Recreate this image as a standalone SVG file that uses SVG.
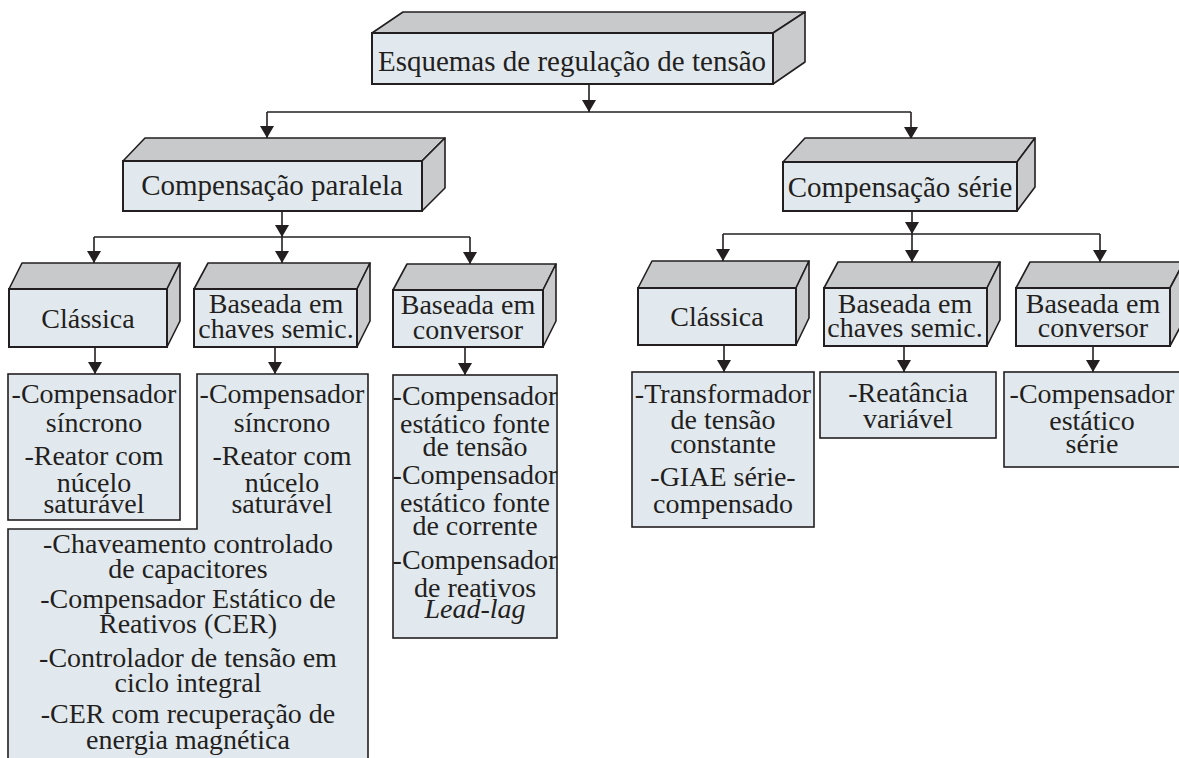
<svg xmlns="http://www.w3.org/2000/svg" width="1179" height="758" viewBox="0 0 1179 758">
<defs>
<style>
.front{fill:#e2e9ee;stroke:#231f20;stroke-width:2}
.top{fill:#c7c9cb;stroke:#231f20;stroke-width:1.6;stroke-linejoin:round}
.side{fill:#c9cbcd;stroke:#231f20;stroke-width:1.6;stroke-linejoin:round}
.list{fill:#e2e9ee;stroke:#231f20;stroke-width:1.6}
text{font-family:"Liberation Serif","Times New Roman",Times,"DejaVu Serif","Noto Serif","Nimbus Roman",FreeSerif,Tinos,serif;font-size:28px;fill:#231f20;text-anchor:middle}
.h{font-size:29px}
.conn{fill:none;stroke:#231f20;stroke-width:1.6}
</style>
<marker id="arr" viewBox="0 0 12 14" refX="12" refY="7" markerWidth="12" markerHeight="14" markerUnits="userSpaceOnUse" orient="auto">
<path d="M0,0 L12,7 L0,14 z" fill="#231f20"/>
</marker>
</defs>

<g id="connectors">
<line class="conn" x1="589" y1="84" x2="589" y2="112" marker-end="url(#arr)"/>
<polyline class="conn" points="267,112 911,112"/>
<line class="conn" x1="267" y1="112" x2="267" y2="138" marker-end="url(#arr)"/>
<line class="conn" x1="911" y1="112" x2="911" y2="139" marker-end="url(#arr)"/>
<line class="conn" x1="282" y1="211" x2="282" y2="237" marker-end="url(#arr)"/>
<polyline class="conn" points="94,237 470,237"/>
<line class="conn" x1="94" y1="237" x2="94" y2="263" marker-end="url(#arr)"/>
<line class="conn" x1="282" y1="237" x2="282" y2="263" marker-end="url(#arr)"/>
<line class="conn" x1="470" y1="237" x2="470" y2="264" marker-end="url(#arr)"/>
<line class="conn" x1="95" y1="347" x2="95" y2="374" marker-end="url(#arr)"/>
<line class="conn" x1="275" y1="347" x2="275" y2="374" marker-end="url(#arr)"/>
<line class="conn" x1="465" y1="347" x2="465" y2="375" marker-end="url(#arr)"/>
<line class="conn" x1="912" y1="210" x2="912" y2="234" marker-end="url(#arr)"/>
<polyline class="conn" points="723,234 1100,234"/>
<line class="conn" x1="723" y1="234" x2="723" y2="261" marker-end="url(#arr)"/>
<line class="conn" x1="912" y1="234" x2="912" y2="262" marker-end="url(#arr)"/>
<line class="conn" x1="1100" y1="234" x2="1100" y2="262" marker-end="url(#arr)"/>
<line class="conn" x1="724" y1="345" x2="724" y2="372" marker-end="url(#arr)"/>
<line class="conn" x1="904" y1="346" x2="904" y2="372" marker-end="url(#arr)"/>
<line class="conn" x1="1093" y1="346" x2="1093" y2="372" marker-end="url(#arr)"/>
</g>

<g id="root">
<polygon class="top" points="372,33 403,12 805,12 773,33"/>
<polygon class="side" points="773,33 805,12 805,62 773,84"/>
<rect class="front" x="372" y="33" width="401" height="51"/>
<text class="h" x="572" y="71">Esquemas de regulação de tensão</text>
</g>

<g id="comp-paralela">
<polygon class="top" points="123,161 145,138 445,138 422,161"/>
<polygon class="side" points="422,161 445,138 445,188 422,211"/>
<rect class="front" x="123" y="161" width="299" height="50"/>
<text class="h" x="272" y="195">Compensação paralela</text>
</g>

<g id="comp-serie">
<polygon class="top" points="783,162 805,138 1035,138 1017,162"/>
<polygon class="side" points="1017,162 1035,138 1035,187 1017,211"/>
<rect class="front" x="783" y="162" width="234" height="49"/>
<text class="h" x="900" y="197">Compensação série</text>
</g>

<g id="par-classica">
<polygon class="top" points="9,289 22,263 180,263 167,289"/>
<polygon class="side" points="167,289 180,263 180,321 167,347"/>
<rect class="front" x="9" y="289" width="158" height="58"/>
<text x="88" y="328">Clássica</text>
</g>

<g id="par-chaves">
<polygon class="top" points="194,289 208,263 370,263 357,289"/>
<polygon class="side" points="357,289 370,263 370,321 357,347"/>
<rect class="front" x="194" y="289" width="163" height="58"/>
<text x="276" y="313">Baseada em</text>
<text x="276" y="338">chaves semic.</text>
</g>

<g id="par-conversor">
<polygon class="top" points="393,290 407,264 556,264 543,290"/>
<polygon class="side" points="543,290 556,264 556,321 543,347"/>
<rect class="front" x="393" y="290" width="150" height="57"/>
<text x="468" y="314">Baseada em</text>
<text x="468" y="339">conversor</text>
</g>

<g id="ser-classica">
<polygon class="top" points="638,288 652,261 809,261 796,288"/>
<polygon class="side" points="796,288 809,261 809,318 796,345"/>
<rect class="front" x="638" y="288" width="158" height="57"/>
<text x="717" y="326">Clássica</text>
</g>

<g id="ser-chaves">
<polygon class="top" points="824,288 838,262 1000,262 987,288"/>
<polygon class="side" points="987,288 1000,262 1000,320 987,346"/>
<rect class="front" x="824" y="288" width="163" height="58"/>
<text x="905" y="313">Baseada em</text>
<text x="905" y="337">chaves semic.</text>
</g>

<g id="ser-conversor">
<polygon class="top" points="1016,288 1030,262 1184,262 1170,288"/>
<polygon class="side" points="1170,288 1184,262 1184,320 1170,346"/>
<rect class="front" x="1016" y="288" width="154" height="58"/>
<text x="1093" y="313">Baseada em</text>
<text x="1093" y="337">conversor</text>
</g>

<g id="list-par-classica">
<rect class="list" x="8" y="374" width="172" height="146"/>
<text x="94" y="403">-Compensador</text>
<text x="94" y="432">síncrono</text>
<text x="94" y="465">-Reator com</text>
<text x="94" y="492">núcelo</text>
<text x="94" y="513">saturável</text>
</g>

<g id="list-par-chaves">
<path class="list" d="M197,374 H368 V762 H8 V529 H197 Z"/>
<text x="282" y="403">-Compensador</text>
<text x="282" y="432">síncrono</text>
<text x="282" y="465">-Reator com</text>
<text x="282" y="492">núcelo</text>
<text x="282" y="513">saturável</text>
<text x="188" y="553">-Chaveamento controlado</text>
<text x="188" y="578">de capacitores</text>
<text x="188" y="608">-Compensador Estático de</text>
<text x="188" y="633">Reativos (CER)</text>
<text x="188" y="667">-Controlador de tensão em</text>
<text x="188" y="692">ciclo integral</text>
<text x="188" y="723">-CER com recuperação de</text>
<text x="188" y="749">energia magnética</text>
</g>

<g id="list-par-conversor">
<rect class="list" x="393" y="375" width="164" height="263"/>
<text x="475" y="405">-Compensador</text>
<text x="475" y="433">estático fonte</text>
<text x="475" y="456">de tensão</text>
<text x="475" y="484">-Compensador</text>
<text x="475" y="512">estático fonte</text>
<text x="475" y="535">de corrente</text>
<text x="475" y="569">-Compensador</text>
<text x="475" y="597">de reativos</text>
<text x="475" y="618" font-style="italic">Lead-lag</text>
</g>

<g id="list-ser-classica">
<rect class="list" x="632" y="372" width="182" height="155"/>
<text x="723" y="403">-Transformador</text>
<text x="723" y="429">de tensão</text>
<text x="723" y="453">constante</text>
<text x="723" y="486">-GIAE série-</text>
<text x="723" y="513">compensado</text>
</g>

<g id="list-ser-chaves">
<rect class="list" x="820" y="372" width="176" height="66"/>
<text x="908" y="402">-Reatância</text>
<text x="908" y="428">variável</text>
</g>

<g id="list-ser-conversor">
<rect class="list" x="1004" y="372" width="180" height="95"/>
<text x="1092" y="403">-Compensador</text>
<text x="1092" y="430">estático</text>
<text x="1092" y="453">série</text>
</g>
</svg>
